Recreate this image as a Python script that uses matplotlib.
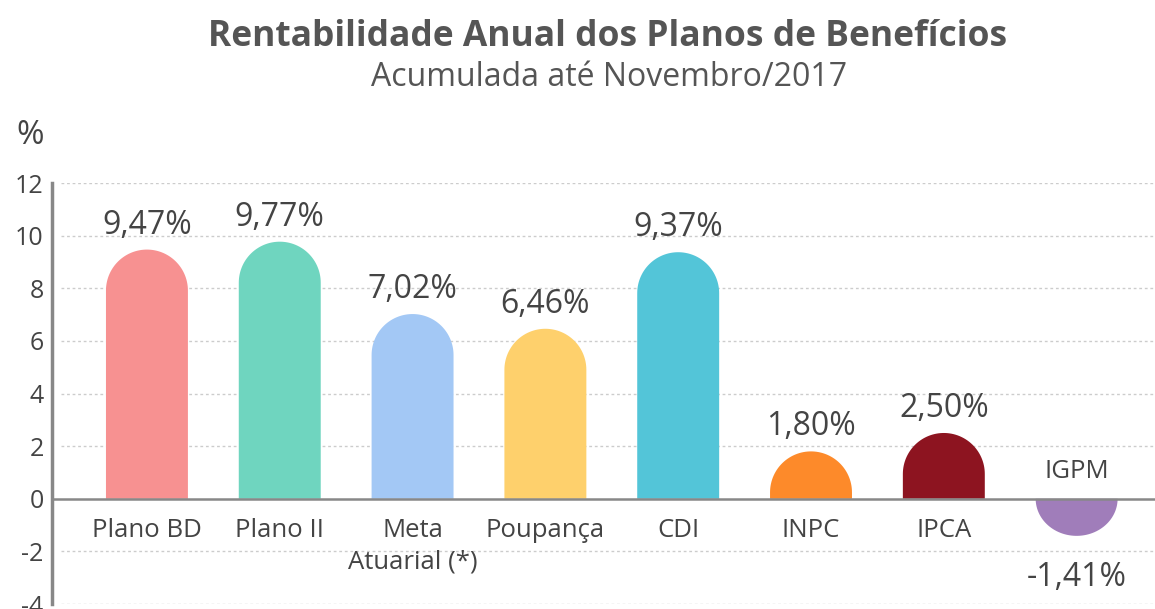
import matplotlib
matplotlib.use("Agg")
import matplotlib.pyplot as plt
from matplotlib.patches import Polygon
import numpy as np

categories = ["Plano BD", "Plano II", "Meta\nAtuarial (*)", "Poupança", "CDI", "INPC", "IPCA", "IGPM"]
values = [9.47, 9.77, 7.02, 6.46, 9.37, 1.80, 2.50, -1.41]
value_labels = ["9,47%", "9,77%", "7,02%", "6,46%", "9,37%", "1,80%", "2,50%", "-1,41%"]
colors = ["#F79191", "#6FD5BF", "#A3C8F5", "#FED06C", "#53C5D8", "#FD8A2A", "#8D1420", "#A07DBA"]
yticks = [-4, -2, 0, 2, 4, 6, 8, 10, 12]

plt.rcParams['font.family'] = ['Open Sans', 'DejaVu Sans']
TXT = "#444444"

fig = plt.figure(figsize=(11.55, 6.09), dpi=100)
ax = fig.add_axes([0.045, 0.0082, 0.955, 0.6913])
ax.set_xlim(-0.715, 7.59)
ax.set_ylim(-4, 12)

for s in ["top", "right", "bottom"]:
    ax.spines[s].set_visible(False)
ax.spines["left"].set_color("#888888")
ax.spines["left"].set_linewidth(2.5)
ax.set_xticks([])
ax.set_yticks(yticks)
ax.set_yticklabels([str(t) for t in yticks], fontsize=18, color=TXT)
ax.tick_params(axis="y", length=0, pad=6)

for t in yticks:
    if t != 0:
        ax.axhline(t, xmin=0.008, color="#cccccc", lw=1, ls=(0, (2, 2)), zorder=0)
ax.axhline(0, color="#888888", lw=1.8, zorder=3)

# pixel scales for circular caps
fig.canvas.draw()
bbox = ax.get_window_extent()
px_x = bbox.width / (7.59 + 0.715)
px_y = bbox.height / 16.0

width = 0.617
r = width / 2
ry = r * px_x / px_y

for i, (v, c) in enumerate(zip(values, colors)):
    sign = 1 if v >= 0 else -1
    h = abs(v)
    cap = min(ry, h)
    body = h - cap
    th = np.linspace(0, np.pi, 60)
    xs = i + r * np.cos(th)
    ys = sign * (body + cap * np.sin(th))
    pts = [(i + r, 0), (i + r, sign * body)] + list(zip(xs, ys)) + [(i - r, sign * body), (i - r, 0)]
    ax.add_patch(Polygon(pts, closed=True, facecolor=c, edgecolor="none", zorder=2))
    if v >= 0:
        ax.text(i, v + 0.3, value_labels[i], ha="center", va="bottom", fontsize=23, color=TXT)
        ax.text(i, -0.75, categories[i], ha="center", va="top", fontsize=18.5, color=TXT, linespacing=1.3)
    else:
        ax.text(i, v - 0.95, value_labels[i], ha="center", va="top", fontsize=23, color=TXT)
        ax.text(i, 0.55, categories[i], ha="center", va="bottom", fontsize=18.5, color=TXT)

fig.text(0.526, 0.940, "Rentabilidade Anual dos Planos de Benefícios", ha="center", va="center",
         fontsize=25.5, fontweight="bold", color="#555555")
fig.text(0.527, 0.872, "Acumulada até Novembro/2017", ha="center", va="center",
         fontsize=23, color="#555555")
fig.text(0.026, 0.778, "%", ha="center", va="center", fontsize=24, color=TXT)

fig.savefig("out.png", dpi=100)
